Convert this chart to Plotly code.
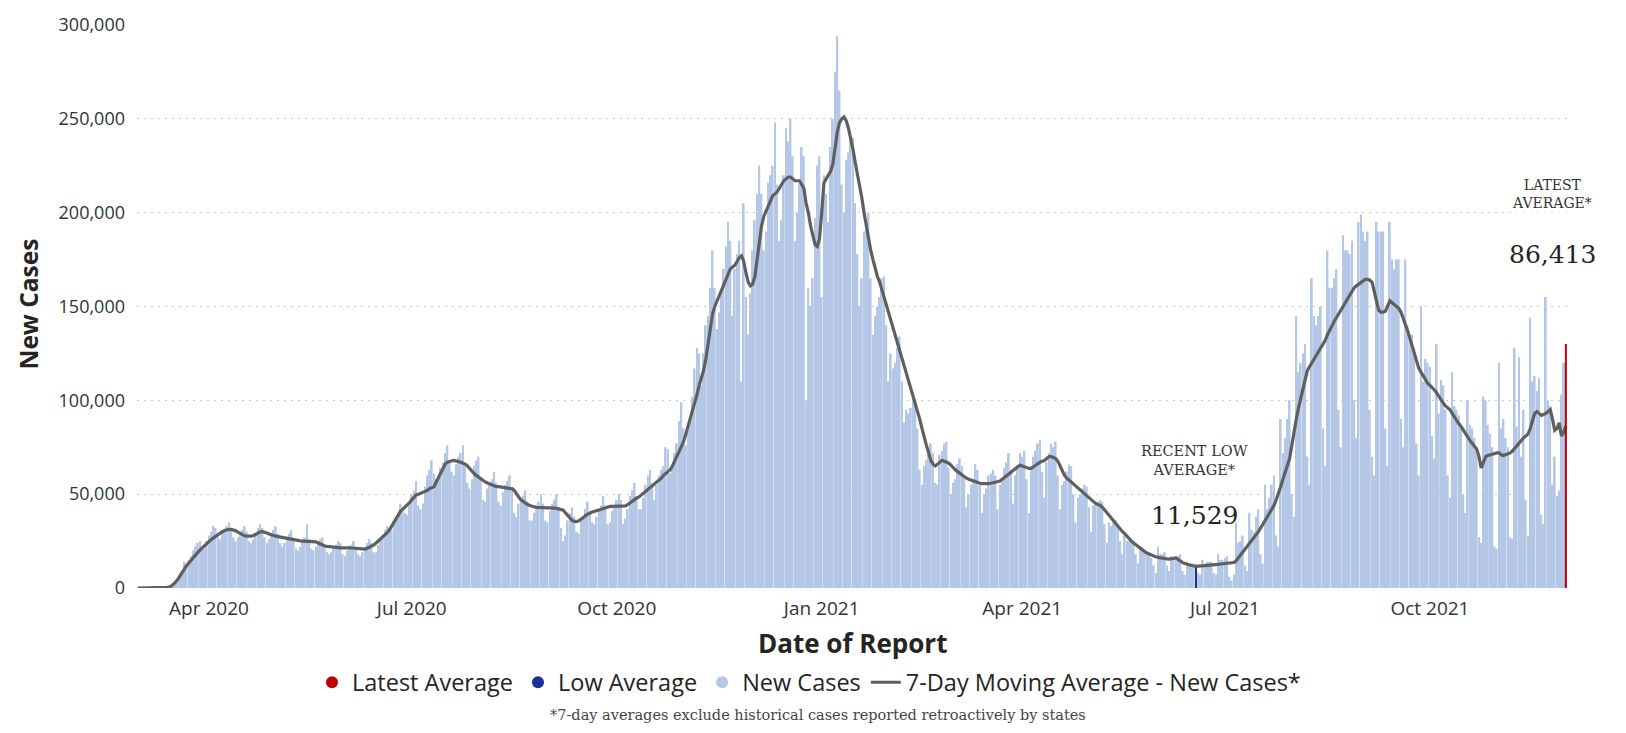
import pandas as pd
import plotly.graph_objects as go

# ---------------- data (values in thousands of cases) ----------------
start_date = "2020-02-29"

# Daily new cases (thousands), one row per week starting Saturday
new_cases_thousands = [
    0, 0, 0, 0, 0.1, 0.1, 0.2,
    0.1, 0.1, 0.2, 0.2, 0.3, 0.4, 0.6,
    0.8, 1.2, 2, 3, 5, 7, 9,
    14, 13, 15, 17, 20, 22, 24,
    25, 22, 21, 25, 28, 30, 33,
    32, 27, 26, 29, 31, 33, 35,
    32, 27, 25, 27, 29, 31, 33,
    30, 25, 24, 26, 29, 32, 34,
    32, 27, 24, 26, 29, 31, 33,
    29, 24, 22, 24, 27, 29, 31,
    26, 21, 20, 22, 25, 27, 34,
    26, 21, 20, 22, 25, 26, 27,
    23, 19, 18, 19, 21, 23, 25,
    24, 18, 17, 20, 22, 23, 25,
    22, 18, 17, 19, 22, 24, 26,
    24, 19, 19, 23, 26, 28, 31,
    33, 30, 31, 36, 38, 40, 45,
    43, 40, 39, 44, 50, 52, 57,
    44, 42, 45, 54, 60, 63, 68,
    61, 58, 58, 64, 67, 72, 76,
    68, 62, 60, 66, 70, 72, 76,
    66, 56, 53, 58, 65, 68, 70,
    58, 47, 46, 53, 56, 58, 62,
    56, 46, 44, 51, 55, 57, 60,
    52, 40, 38, 45, 47, 49, 52,
    46, 36, 36, 40, 44, 46, 50,
    45, 36, 35, 41, 45, 47, 50,
    43, 32, 25, 28, 36, 40, 43,
    38, 30, 29, 36, 38, 42, 46,
    41, 35, 34, 38, 42, 44, 49,
    44, 34, 35, 41, 44, 47, 50,
    47, 34, 37, 42, 49, 52, 56,
    49, 42, 42, 48, 55, 60, 63,
    56, 47, 55, 60, 63, 65, 75,
    74, 61, 64, 72, 77, 89, 99,
    85, 76, 84, 91, 102, 117, 128,
    125, 108, 125, 140, 145, 160, 180,
    160, 138, 147, 158, 170, 182, 195,
    185, 145, 170, 178, 185, 110, 205,
    155, 135, 157, 180, 196, 210, 225,
    210, 180, 190, 216, 220, 225, 248,
    215, 185, 196, 220, 245, 238, 250,
    230, 185, 200, 215, 235, 230, 100,
    160, 150, 165, 197, 225, 230, 155,
    220, 210, 195, 235, 250, 275, 294,
    265, 215, 200, 228, 232, 240, 240,
    205, 178, 150, 165, 190, 195, 200,
    165, 135, 145, 150, 155, 165, 166,
    140, 110, 125, 117, 120, 128, 134,
    110, 88, 95, 93, 96, 104, 101,
    85, 63, 55, 65, 68, 72, 77,
    72, 56, 55, 71, 73, 77, 78,
    64, 50, 56, 58, 66, 69, 65,
    59, 43, 50, 55, 58, 66, 63,
    55, 40, 50, 53, 60, 61, 63,
    60, 42, 55, 58, 64, 67, 72,
    63, 45, 60, 65, 72, 70, 73,
    58, 40, 65, 70, 73, 77, 79,
    62, 48, 67, 72, 77, 75, 78,
    60, 42, 55, 57, 62, 66, 65,
    50, 35, 48, 50, 53, 55, 54,
    43, 30, 44, 44, 46, 47, 46,
    34, 24, 35, 33, 35, 36, 34,
    25, 18, 28, 25, 25, 26, 24,
    18, 13, 22, 20, 19, 19, 18,
    16, 12, 8, 22, 18, 18, 19,
    12, 9, 17, 16, 17, 17, 18,
    9, 7, 14, 13, 12, 13, 13,
    8, 7, 15, 13, 14, 14, 14,
    8, 7, 18, 15, 15, 16, 17,
    6, 4, 7, 35, 24, 25, 28,
    12, 9, 40, 31, 30, 38, 42,
    18, 13, 55, 42, 48, 55, 60,
    28, 22, 90, 72, 80, 90, 100,
    50, 38, 145, 115, 120, 125, 130,
    70, 55, 165, 145, 140, 145, 150,
    85, 65, 180, 160, 160, 165, 170,
    95, 75, 188, 180, 180, 178, 185,
    100, 80, 195, 199, 190, 185, 190,
    95, 70, 60, 195, 190, 190, 190,
    85, 65, 195, 175, 170, 175, 175,
    90, 75, 175, 140, 135, 135, 128,
    77, 60, 150, 110, 122, 120, 118,
    81, 69, 130, 93, 111, 108, 95,
    60, 48, 115, 97, 95, 92, 85,
    50, 40, 100, 87, 85, 80, 75,
    27, 24, 102, 100, 87, 82, 75,
    22, 21, 120, 85, 90, 80, 75,
    27, 26, 128, 86, 123, 70, 95,
    47, 28, 144, 110, 113, 105, 112,
    39, 34, 155, 100, 97, 55, 70,
    49, 52, 103, 120, 120,
]

# 7-day moving average (thousands), same dates
moving_avg_thousands = [
    0, 0, 0, 0, 0, 0.1, 0.1,
    0.1, 0.1, 0.2, 0.2, 0.3, 0.3, 0.4,
    0.5, 1, 2, 3, 4.5, 6.5, 8.5,
    10.5, 12, 13.5, 15, 16.5, 17.8, 19,
    20.3, 21.5, 22.6, 23.7, 24.8, 25.8, 26.7,
    27.6, 28.5, 29.3, 30, 30.6, 31, 31.2,
    31.2, 31, 30.5, 29.8, 29, 28.3, 27.8,
    27.6, 27.5, 27.6, 28, 28.7, 29.4, 29.9,
    30, 29.8, 29.3, 28.8, 28.3, 28, 27.6,
    27.4, 27.2, 27, 26.8, 26.7, 26.6, 26.4,
    26, 25.7, 25.4, 25.1, 25, 25, 25,
    25, 24.9, 24.8, 24.6, 24, 23.4, 22.8,
    22.4, 22.2, 22, 21.8, 21.6, 21.5, 21.4,
    21.4, 21.4, 21.5, 21.5, 21.4, 21.3, 21.2,
    21, 20.8, 20.7, 20.6, 20.7, 21.2, 21.8,
    22.3, 23, 24, 25, 26, 27, 28,
    29.5, 31, 33, 35, 37, 39, 41,
    42, 43, 44, 45.5, 47, 48.5, 49.6,
    50, 50.5, 51, 51.5, 52, 53, 53.5,
    54, 56.5, 59, 61.5, 64, 66, 67,
    67.5, 67.8, 68, 67.8, 67.5, 67, 66.5,
    66, 65, 63.5, 62, 61, 60, 59,
    58, 57, 56.5, 56, 55.5, 55, 54.5,
    54, 54, 53.7, 53.5, 53.3, 53.2, 53,
    53, 52, 50, 48.5, 47, 46, 45,
    44.5, 44, 43.5, 43.2, 43, 43, 43,
    43, 43, 43, 43, 42.8, 42.6, 42.4,
    42.2, 42, 41.5, 40, 38.5, 37, 36,
    35.5, 35.4, 35.8, 36.5, 37.5, 38.6, 39.5,
    40, 40.5, 41, 41.3, 41.6, 42, 42.4,
    42.8, 43.2, 43.5, 43.5, 43.5, 43.5, 43.5,
    43.5, 43.6, 43.8, 44.5, 45.5, 46.5, 47.5,
    48, 48.5, 49.5, 50.5, 51.5, 52.5, 53.5,
    54, 55, 56, 57, 58.5, 60, 61,
    62, 63, 65, 67.5, 70, 72.5, 75,
    78, 82, 86, 90, 94, 98, 103,
    108, 112, 116, 122, 130, 138, 146,
    150, 153, 156, 159, 162, 165, 168,
    170, 171, 172, 174, 176, 177, 174,
    168, 163, 161, 162, 166, 176, 186,
    193, 198, 201, 204, 207, 209, 210,
    211, 213, 215, 217, 218, 219, 219,
    218, 217, 217, 217, 215, 213, 205,
    200, 193, 187, 183, 182, 186, 200,
    216, 218, 220, 222, 226, 235, 243,
    248, 250, 251, 249, 245, 240, 234,
    227, 221, 215, 208, 200, 193, 186,
    180, 175, 170, 166, 163, 159, 154,
    150, 146, 142, 138, 134, 130, 126,
    123, 119, 115, 111, 107, 103, 99,
    95, 90, 85, 80, 76, 72, 68,
    66, 65, 66, 67, 68, 67.5, 67,
    66.5, 65.5, 64, 63, 62, 61, 60,
    59, 58.5, 58, 57.5, 57, 56.5, 56,
    55.8, 55.6, 55.5, 55.5, 55.6, 55.8, 56,
    56.3, 56.6, 57, 58, 59, 60, 61,
    62, 63, 64, 65, 65.5, 65, 64.5,
    64, 63.7, 63.7, 64.5, 65.5, 66.5, 67,
    67.5, 68, 69, 70, 70, 69.5, 69,
    67.5, 65, 62, 60, 58.5, 57.5, 56.5,
    55.5, 54.5, 53.5, 52.5, 51, 50, 49,
    48, 47, 46, 45, 44.5, 44, 43,
    41.5, 40, 38.5, 37, 35.5, 34, 32.5,
    31, 30, 29, 27.5, 26, 25, 24,
    23, 22, 21, 20.2, 19.4, 18.6, 18,
    17.5, 17, 16.6, 16.3, 16, 15.8, 15.6,
    15.5, 15.4, 15.5, 15.8, 16, 15.2, 14.2,
    13.5, 13, 12.6, 12.2, 11.9, 11.7, 11.529,
    11.6, 11.7, 11.8, 11.9, 12, 12.1, 12.2,
    12.3, 12.4, 12.6, 12.8, 13, 13.2, 13.4,
    13.5, 13.5, 13.6, 14.5, 16, 17.5, 19,
    20.7, 22.3, 24, 25.5, 27, 28.5, 30,
    32, 34, 36, 38, 40, 42, 44,
    47, 50, 54, 58, 62, 65, 69,
    76, 84, 90, 96, 101, 106, 110,
    116, 118, 120, 122, 124, 126, 128,
    130, 132, 135, 137.5, 140, 142, 144,
    146, 148, 150, 152, 154, 156, 158,
    160, 161, 162, 163, 164, 164.5, 164.5,
    164, 163, 158, 152, 148, 147, 147,
    147.5, 150, 153, 152, 151, 150, 149,
    147, 144, 141, 137, 133, 129, 125,
    121, 117, 115, 113, 111, 109, 108,
    107, 105.5, 104, 102, 100, 98.5, 97,
    96, 95, 93, 91, 89, 87.5, 86,
    84, 82, 80, 78.5, 77, 75.5, 74,
    70, 64, 67, 70, 70.6, 71, 71.5,
    72, 72, 72, 71, 70.6, 71, 71.5,
    72, 73, 74.5, 76, 77.5, 79, 80,
    81, 82, 85, 89, 93, 94, 93,
    92, 92.5, 93, 94, 95, 90, 84,
    85, 88, 81, 83, 86.413,
]

low_average_date = "2021-06-18"
low_average_value = 11529
latest_average_date = "2021-12-01"
latest_average_value = 86413
latest_marker_height = 130000

x_axis_ticks = ["2020-04-01", "2020-07-01", "2020-10-01", "2021-01-01",
                "2021-04-01", "2021-07-01", "2021-10-01"]
x_axis_ticktext = ["Apr 2020", "Jul 2020", "Oct 2020", "Jan 2021",
                   "Apr 2021", "Jul 2021", "Oct 2021"]
y_axis_ticks = [0, 50000, 100000, 150000, 200000, 250000, 300000]

# ---------------- figure ----------------
assert len(new_cases_thousands) == len(moving_avg_thousands)
dates = pd.date_range(start_date, periods=len(new_cases_thousands), freq="D")
cases = [v * 1000 for v in new_cases_thousands]
avg = [v * 1000 for v in moving_avg_thousands]

BAR = "#b4c7e7"
LINE = "#5f5f5f"
RED = "#c00000"
BLUE = "#1b2f9e"
SANS = "Open Sans, Noto Sans, sans-serif"
SERIF = "DejaVu Serif, serif"

fig = go.Figure()

fig.add_trace(go.Bar(x=dates, y=cases, marker=dict(color=BAR, line=dict(width=0)),
                     showlegend=False, name="New Cases"))
fig.add_trace(go.Scatter(x=[low_average_date, low_average_date], y=[0, low_average_value],
                         mode="lines", line=dict(color=BLUE, width=2), showlegend=False))
fig.add_trace(go.Scatter(x=dates, y=avg, mode="lines", line=dict(color=LINE, width=3.2),
                         name="7-Day Moving Average - New Cases*", legendrank=4))
fig.add_trace(go.Scatter(x=[latest_average_date, latest_average_date], y=[0, latest_marker_height],
                         mode="lines", line=dict(color=RED, width=2), showlegend=False))

# legend entries shown as dots
fig.add_trace(go.Scatter(x=[None], y=[None], mode="markers", name="Latest Average",
                         marker=dict(color=RED, size=12), legendrank=1))
fig.add_trace(go.Scatter(x=[None], y=[None], mode="markers", name="Low Average",
                         marker=dict(color=BLUE, size=12), legendrank=2))
fig.add_trace(go.Scatter(x=[None], y=[None], mode="markers", name="New Cases",
                         marker=dict(color=BAR, size=12), legendrank=3))

L, R, T, B = 137, 58, 16, 145
W, H = 1626, 733
pw = W - L - R
ph = H - T - B


def px(xp):
    return (xp - L) / pw


def py(yp):
    return (H - B - yp) / ph


fig.update_layout(
    width=W, height=H,
    margin=dict(l=L, r=R, t=T, b=B),
    paper_bgcolor="white", plot_bgcolor="white",
    bargap=0.2,
    font=dict(family=SANS, color="#252423"),
    showlegend=True,
    legend=dict(orientation="h", x=px(809), xanchor="center", y=py(684), yanchor="middle",
                font=dict(size=23.5, family=SANS, color="#252423"), itemwidth=30,
                traceorder="normal", bgcolor="rgba(0,0,0,0)"),
    xaxis=dict(type="date", range=["2020-02-28 16:25", "2021-12-01 23:00"],
               tickmode="array", tickvals=x_axis_ticks, ticktext=x_axis_ticktext,
               tickfont=dict(size=19, color="#333333"), showgrid=False, zeroline=False,
               showline=False, ticks="", ticklabelstandoff=7),
    yaxis=dict(range=[0, 300000], tickmode="array", tickvals=y_axis_ticks,
               tickformat=",d", tickfont=dict(size=18, color="#333333"),
               showgrid=True, gridcolor="#c8c8c8", griddash="2px,5px", gridwidth=1,
               zeroline=False, showline=False, ticks="", ticklabelstandoff=11),
)

annotations = [
    dict(text="<b>New Cases</b>", x=px(29), y=py(300), textangle=-90,
         font=dict(size=24.5, family=SANS, color="#252423")),
    dict(text="<b>Date of Report</b>", x=px(852), y=py(644),
         font=dict(size=26, family=SANS, color="#252423")),
    dict(text="*7-day averages exclude historical cases reported retroactively by states",
         x=px(818), y=py(717.5), font=dict(size=14.5, family=SERIF, color="#444444")),
    dict(text="LATEST<br>AVERAGE*", x=px(1552), y=py(188), bgcolor="white",
         font=dict(size=14, family=SERIF, color="#333333")),
    dict(text=f"{latest_average_value:,}", x=px(1552), y=py(249),
         font=dict(size=25, family=SERIF, color="#252423")),
    dict(text="RECENT LOW<br>AVERAGE*", x=px(1194), y=py(458),
         font=dict(size=14.5, family=SERIF, color="#333333")),
    dict(text=f"{low_average_value:,}", x=px(1194), y=py(514),
         font=dict(size=25, family=SERIF, color="#252423")),
]
for a in annotations:
    a.update(xref="paper", yref="paper", showarrow=False, xanchor="center", yanchor="middle")
fig.update_layout(annotations=annotations)

fig.write_html("out.html", config={"displayModeBar": False},
               post_script="document.body.style.margin='0';")
